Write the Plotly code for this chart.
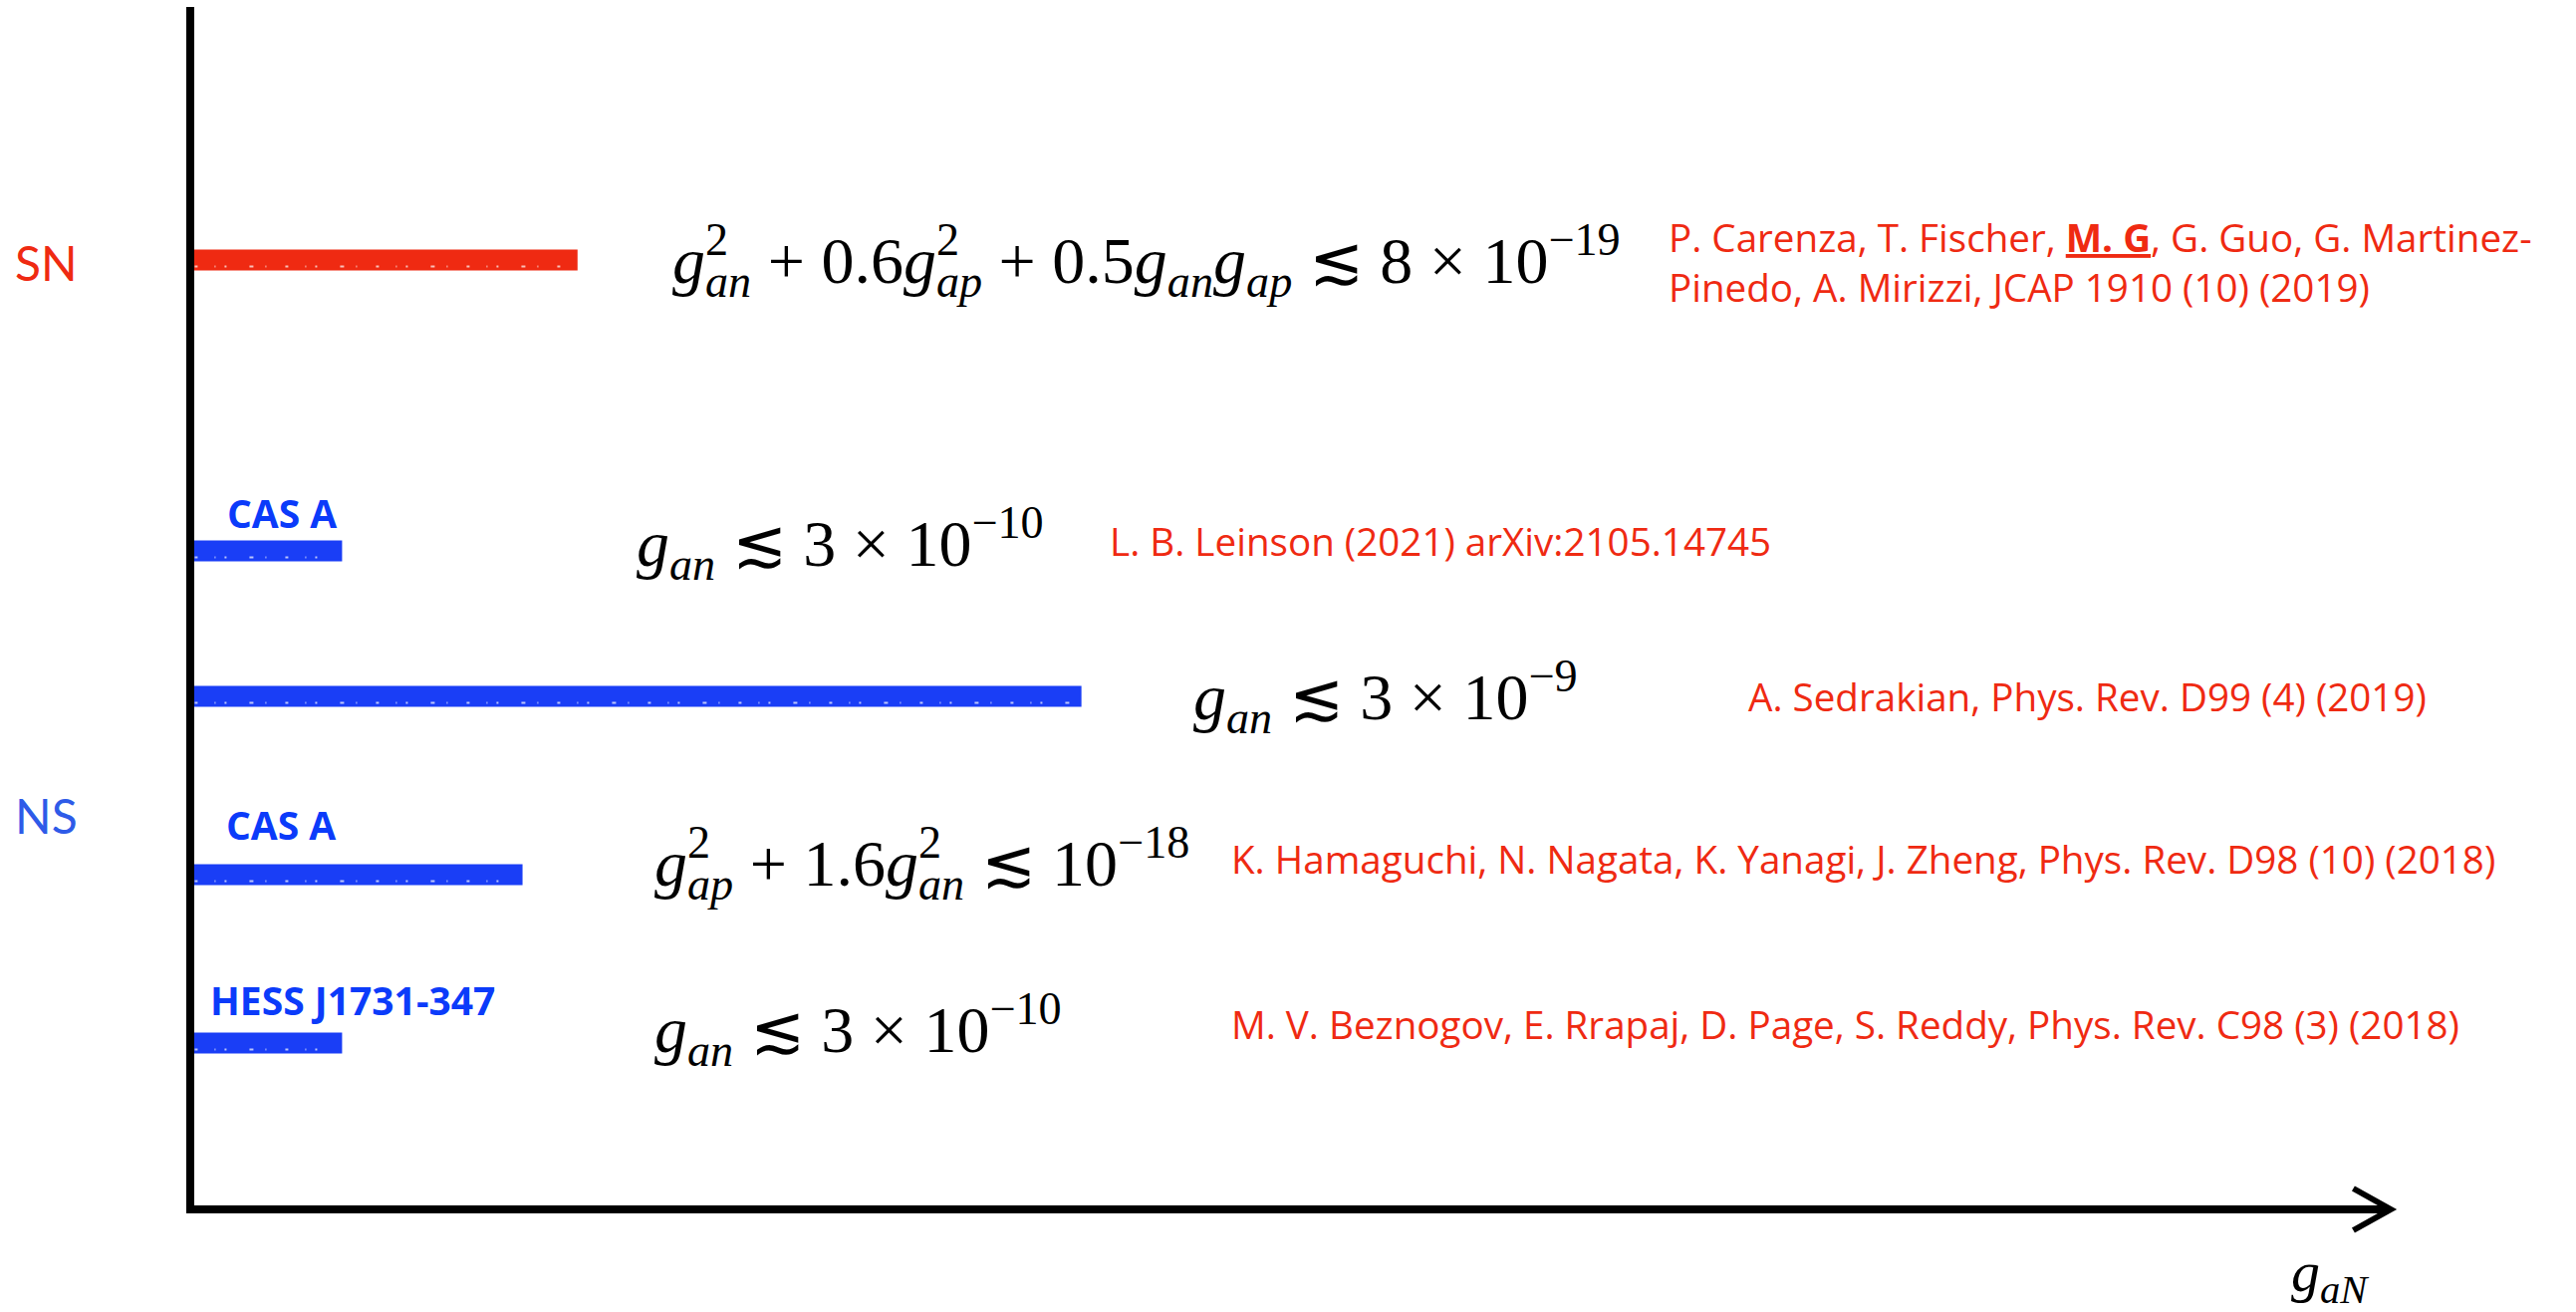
import plotly.graph_objects as go

# ---------------- data ----------------
# one row per bound, top to bottom
groups = ["SN", "NS", "NS", "NS", "NS"]
sources = ["", "CAS A", "", "CAS A", "HESS J1731-347"]
bar_lengths = [1.76, 0.69, 4.05, 1.51, 0.69]   # extent of each bound along g_aN

# superscript 2 stacked above the following subscript
SQ = '<sup><span style="letter-spacing:-0.5em">2</span></sup>'

formulas = [
    f"<i>g</i>{SQ}<sub><i>an</i></sub> + 0.6<i>g</i>{SQ}<sub><i>ap</i></sub> + 0.5<i>g</i><sub><i>an</i></sub><i>g</i><sub><i>ap</i></sub> ≲ 8 × 10<sup>−19</sup>",
    "<i>g</i><sub><i>an</i></sub> ≲ 3 × 10<sup>−10</sup>",
    "<i>g</i><sub><i>an</i></sub> ≲ 3 × 10<sup>−9</sup>",
    f"<i>g</i>{SQ}<sub><i>ap</i></sub> + 1.6<i>g</i>{SQ}<sub><i>an</i></sub> ≲ 10<sup>−18</sup>",
    "<i>g</i><sub><i>an</i></sub> ≲ 3 × 10<sup>−10</sup>",
]

citations = [
    ["P. Carenza, T. Fischer, <b><u>M. G</u></b>, G. Guo, G. Martinez-",
     "Pinedo, A. Mirizzi, JCAP 1910 (10) (2019)"],
    ["L. B. Leinson (2021) arXiv:2105.14745"],
    ["A. Sedrakian, Phys. Rev. D99 (4) (2019)"],
    ["K. Hamaguchi, N. Nagata, K. Yanagi, J. Zheng, Phys. Rev. D98 (10) (2018)"],
    ["M. V. Beznogov, E. Rrapaj, D. Page, S. Reddy, Phys. Rev. C98 (3) (2018)"],
]

axis_label = "<i>g</i><sub><i>aN</i></sub>"

# ---------------- layout constants ----------------
W, H = 2586, 1317
X0_PX, TIP_PX = 191, 2400          # vertical axis and arrow tip (pixels)
XSCALE = (TIP_PX - X0_PX) / 10.0   # pixels per unit, arrow at x = 10
Y0_PX = 1214                        # horizontal axis (pixels)
YSCALE = 100.0

x_range = [-X0_PX / XSCALE, (W - X0_PX) / XSCALE]
y_range = [-(H - Y0_PX) / YSCALE, Y0_PX / YSCALE]

row_y = [9.53, 6.61, 5.15, 3.36, 1.67]
formula_x = [2.18, 2.02, 4.55, 2.10, 2.10]
formula_dy = [0.0, 0.08, 0.0, 0.12, 0.14]
cite_x = [6.71, 4.17, 7.07, 4.72, 4.72]
cite_y = [[9.76, 9.26], [6.71], [5.15], [3.52], [1.86]]
source_pos = {1: (0.16, 7.00), 3: (0.155, 3.87), 4: (0.08, 2.11)}
group_pos = {"SN": 9.51, "NS": 3.96}

RED = "#EF2A12"
BLUE_BAR = "#1A3EF6"
BLUE_TXT = "#0B3BFA"
BLUE_GRP = "#2E5BE8"

SERIF = "Liberation Serif, Times New Roman, serif"
SANS = "Open Sans, Noto Sans, sans-serif"

fig = go.Figure()

# bars, with a light speckle along the lower edge for a chalk-like stroke
for g, L, y in zip(groups, bar_lengths, row_y):
    col = RED if g == "SN" else BLUE_BAR
    fig.add_trace(go.Scatter(
        x=[0, L], y=[y, y], mode="lines",
        line=dict(color=col, width=21),
        hoverinfo="skip", showlegend=False))
    fig.add_trace(go.Scatter(
        x=[0.02, L - 0.02], y=[y - 0.065, y - 0.065], mode="lines",
        line=dict(color="white", width=2,
                  dash="3px,17px,1px,9px,2px,23px,4px,12px,1px,19px"),
        opacity=0.7, hoverinfo="skip", showlegend=False))

annotations = []

# group labels on the left
for name, yv in group_pos.items():
    annotations.append(dict(
        x=x_range[0] + 0.06, y=yv, xref="x", yref="y",
        text=name, showarrow=False, xanchor="left", yanchor="middle",
        font=dict(family="Lato, sans-serif", size=48,
                  color=RED if name == "SN" else BLUE_GRP)))

# source labels above bars
for i, (sx, sy) in source_pos.items():
    annotations.append(dict(
        x=sx, y=sy, xref="x", yref="y", text=f"<b>{sources[i]}</b>",
        showarrow=False, xanchor="left", yanchor="middle",
        font=dict(family=SANS, size=39, color=BLUE_TXT)))

# formulas
for f, fx, y, dy in zip(formulas, formula_x, row_y, formula_dy):
    annotations.append(dict(
        x=fx, y=y + dy, xref="x", yref="y", text=f,
        showarrow=False, xanchor="left", yanchor="middle",
        font=dict(family=SERIF, size=66, color="black")))

# references
for lines, cx, ys in zip(citations, cite_x, cite_y):
    for line, yy in zip(lines, ys):
        annotations.append(dict(
            x=cx, y=yy, xref="x", yref="y", text=line,
            showarrow=False, xanchor="left", yanchor="middle",
            font=dict(family=SANS, size=38.6, color=RED)))

# axis label
annotations.append(dict(
    x=(2298 - X0_PX) / XSCALE, y=-0.66, xref="x", yref="y", text=axis_label,
    showarrow=False, xanchor="left", yanchor="middle",
    font=dict(family=SERIF, size=58, color="black")))

shapes = [
    # vertical axis
    dict(type="line", xref="x", yref="y", x0=0, x1=0, y0=-0.04, y1=12.07,
         line=dict(color="black", width=8)),
    # horizontal axis
    dict(type="line", xref="x", yref="y", x0=-0.018, x1=9.98, y0=0, y1=0,
         line=dict(color="black", width=8)),
    # arrow head
    dict(type="path", xref="x", yref="y",
         path="M 9.83,0.21 L 10.0,0 L 9.83,-0.21",
         line=dict(color="black", width=6)),
]

fig.update_layout(
    width=W, height=H,
    margin=dict(l=0, r=0, t=0, b=0),
    paper_bgcolor="white", plot_bgcolor="white",
    xaxis=dict(range=x_range, visible=False, fixedrange=True),
    yaxis=dict(range=y_range, visible=False, fixedrange=True),
    annotations=annotations, shapes=shapes, showlegend=False,
)

fig.write_html("out.html")
